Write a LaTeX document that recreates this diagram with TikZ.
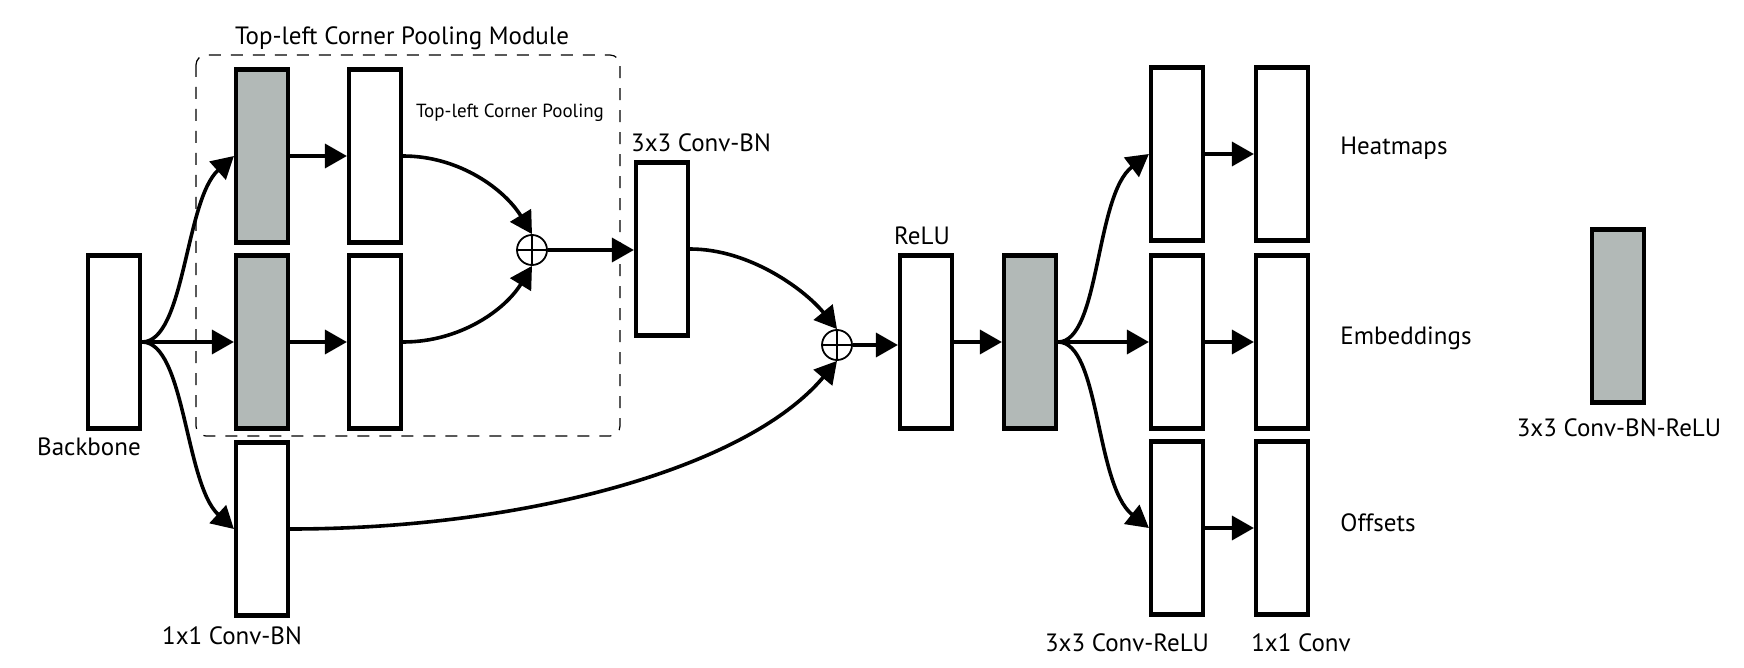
\documentclass[tikz,border=0pt]{standalone}
\usepackage{fontspec}
\setsansfont{PT Sans}
\usetikzlibrary{arrows.meta}
\definecolor{poolgray}{RGB}{178,185,183}

\begin{document}
\begin{tikzpicture}[x=0.5pt,y=-0.5pt,
    blk/.style={draw,line width=2.1pt,minimum width=26pt,minimum height=86.5pt,inner sep=0pt},
    gblk/.style={blk,fill=poolgray},
    lbl/.style={font=\sffamily\fontsize{12.5}{15}\selectfont,inner sep=0pt},
    conn/.style={line width=1.8pt,-{Triangle[length=11pt,width=12pt]}},
    addop/.style={draw,circle,line width=0.9pt,minimum size=15pt,inner sep=0pt}]
    \useasboundingbox (0,0) rectangle (1744,668);
    % module frame
    \draw[dash pattern=on 6pt off 5pt,line width=0.6pt,rounded corners=5pt] (196,55) rectangle (620,436);
    \node[lbl] (modtitle) at (402,38) {Top-left Corner Pooling Module};
    \node[lbl,font=\sffamily\fontsize{9.5}{11}\selectfont] (pooltxt) at (510,113) {Top-left Corner Pooling};
    % blocks
    \node[blk] (backbone) at (114,342) {};
    \node[gblk] (conv1) at (262,156) {};
    \node[gblk] (conv2) at (262,342) {};
    \node[blk] (skip) at (262,529) {};
    \node[blk] (pool1) at (375,156) {};
    \node[blk] (pool2) at (375,342) {};
    \node[addop] (add1) at (532,250) {};
    \node[blk] (convbn) at (662,249) {};
    \node[addop] (add2) at (837,345) {};
    \node[blk] (relu) at (926,342) {};
    \node[gblk] (conv3) at (1030,342) {};
    \foreach \a in {add1,add2} {
        \draw[line width=0.9pt] (\a.north) -- (\a.south) (\a.west) -- (\a.east);
    }
    % heads
    \foreach \y/\n in {154/heat,342/emb,528/off} {
        \node[blk] (\n1) at (1177,\y) {};
        \node[blk] (\n2) at (1282,\y) {};
        \draw[conn] (\n1.east) -- (\n2.west);
    }
    \node[gblk] (legend) at (1618,316) {};
    % labels
    \node[lbl] (lbackbone) at (89,447) {Backbone};
    \node[lbl] (lskip) at (232,636) {1x1 Conv-BN};
    \node[lbl] (lconvbn) at (701,143) {3x3 Conv-BN};
    \node[lbl] (lrelu) at (922,236) {ReLU};
    \node[lbl,anchor=west] (lheat) at (1340,148) {Heatmaps};
    \node[lbl,anchor=west] (lemb) at (1340,338) {Embeddings};
    \node[lbl,anchor=west] (loff) at (1340,523) {Offsets};
    \node[lbl] (lcr) at (1127,643) {3x3 Conv-ReLU};
    \node[lbl] (lc1) at (1301,643) {1x1 Conv};
    \node[lbl] (llegend) at (1619,428) {3x3 Conv-BN-ReLU};
    % connectors
    \draw[conn] (backbone.east) .. controls (185,342) and (185,200) .. (conv1.west);
    \draw[conn] (backbone.east) -- (conv2.west);
    \draw[conn] (backbone.east) .. controls (185,342) and (185,484) .. (skip.west);
    \draw[conn] (conv1.east) -- (pool1.west);
    \draw[conn] (conv2.east) -- (pool2.west);
    \draw[conn] (pool1.east) .. controls (460,156) and (505,190) .. (add1.north);
    \draw[conn] (pool2.east) .. controls (460,342) and (505,310) .. (add1.south);
    \draw[conn] (add1.east) -- (add1.east -| convbn.west);
    \draw[conn] (convbn.east) .. controls (750,249) and (805,290) .. (add2.north);
    \draw[conn] (skip.east) .. controls (520,529) and (745,470) .. (add2.south);
    \draw[conn] (add2.east) -- (add2.east -| relu.west);
    \draw[conn] (relu.east) -- (conv3.west);
    \draw[conn] (conv3.east) .. controls (1100,342) and (1095,195) .. (heat1.west);
    \draw[conn] (conv3.east) -- (emb1.west);
    \draw[conn] (conv3.east) .. controls (1100,342) and (1095,485) .. (off1.west);
\end{tikzpicture}
\end{document}
